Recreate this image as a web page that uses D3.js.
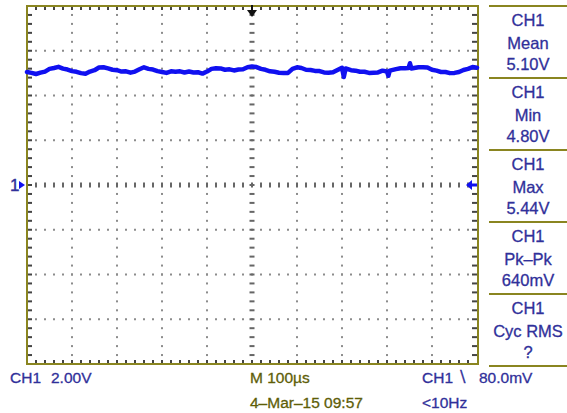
<!DOCTYPE html>
<html>
<head>
<meta charset="utf-8">
<script src="https://cdn.jsdelivr.net/npm/d3@7"></script>
<style>
  html, body { margin: 0; padding: 0; background: #fff; }
  svg { display: block; font-family: "Liberation Sans", Arial, sans-serif; }
</style>
</head>
<body>
<div id="scope"></div>
<script>
// trace samples: time in microseconds, CH1 in volts
var times = [0, 10, 20, 30, 40, 50, 60, 70, 80, 90, 100, 110, 120, 130, 140, 150, 160, 170, 180, 190,
             200, 210, 220, 230, 240, 250, 260, 270, 280, 290, 300, 310, 320, 330, 340, 350, 360, 370,
             380, 390, 400, 410, 420, 430, 440, 450, 460, 470, 480, 490, 500, 510, 520, 530, 540, 550,
             560, 570, 580, 590, 600, 610, 620, 630, 640, 650, 660, 670, 680, 690, 700, 704, 708, 720,
             730, 740, 750, 760, 770, 780, 790, 800, 803, 806, 820, 830, 840, 848, 851, 854, 870, 880,
             890, 900, 910, 920, 930, 940, 950, 960, 970, 980, 990, 1000];
var volts = [5.05, 5.01, 4.96, 5.02, 5.07, 5.19, 5.23, 5.28, 5.20, 5.16, 5.09, 5.06, 5.00, 4.97, 5.07,
             5.13, 5.25, 5.26, 5.21, 5.15, 5.13, 5.07, 5.08, 5.02, 5.07, 5.17, 5.26, 5.19, 5.16, 5.09,
             5.05, 5.01, 5.08, 5.06, 5.08, 5.03, 5.07, 5.03, 5.04, 4.98, 5.07, 5.19, 5.22, 5.21, 5.15,
             5.17, 5.12, 5.16, 5.17, 5.26, 5.30, 5.27, 5.19, 5.15, 5.08, 5.06, 5.02, 5.01, 5.01, 5.19,
             5.26, 5.23, 5.15, 5.14, 5.10, 5.09, 5.03, 5.02, 5.04, 5.14, 5.24, 4.83, 5.21, 5.13, 5.11,
             5.06, 5.06, 5.01, 5.02, 5.03, 5.11, 5.07, 4.88, 5.11, 5.18, 5.22, 5.22, 5.23, 5.44, 5.21,
             5.26, 5.26, 5.25, 5.15, 5.11, 5.05, 5.05, 5.00, 5.01, 5.05, 5.14, 5.19, 5.27, 5.24];

var measChannel = "CH1";
var measNames  = ["Mean", "Min", "Max", "Pk\u2013Pk", "Cyc RMS"];
var measValues = ["5.10V", "4.80V", "5.44V", "640mV", "?"];

var scaleText   = ["CH1", "2.00V"];
var timebase    = "M 100\u00b5s";
var dateText    = "4\u2013Mar\u201315 09:57";
var triggerText = ["CH1", "\u2216", "80.0mV"];
var freqText    = "<10Hz";

var W = 567, H = 413;
var blue = "#30309a", olive = "#5e5e08", border = "#8a8520", traceCol = "#1010f0";

var svg = d3.select("#scope").append("svg").attr("width", W).attr("height", H);

// 10 divisions of 100us, 8 divisions of 2V
var x = d3.scaleLinear().domain([0, 1000]).range([27, 477]);
var y = d3.scaleLinear().domain([-8, 8]).range([364, 6]);

var g = svg.append("g");

// minor steps
var tMinor = d3.range(0, 1000.01, 20);
var vMinor = d3.range(-8, 8.01, 0.4);

// dotted grid
[100, 200, 300, 400, 600, 700, 800, 900].forEach(function (t) {
    g.selectAll(null).data(vMinor.slice(1, -1)).enter().append("rect")
        .attr("x", x(t) - 1).attr("y", function (v) { return y(v) - 1; })
        .attr("width", 2).attr("height", 2).attr("fill", "#8c8c8c");
});
[-6, -4, -2, 2, 4, 6].forEach(function (v) {
    g.selectAll(null).data(tMinor.slice(1, -1)).enter().append("rect")
        .attr("x", function (t) { return x(t) - 1; }).attr("y", y(v) - 1)
        .attr("width", 2).attr("height", 2).attr("fill", "#8c8c8c");
});

// center cross
g.selectAll(null).data(vMinor.slice(1, -1)).enter().append("rect")
    .attr("x", x(500) - 2.5).attr("y", function (v) { return y(v) - 1; })
    .attr("width", 5).attr("height", 2).attr("fill", "#666");
g.selectAll(null).data(tMinor.slice(1, -1)).enter().append("rect")
    .attr("x", function (t) { return x(t) - 1; }).attr("y", y(0) - 2.5)
    .attr("width", 2).attr("height", 5).attr("fill", "#666");

// border ticks
g.selectAll(null).data(tMinor.slice(1, -1)).enter().append("rect")
    .attr("x", function (t) { return x(t) - 1; }).attr("y", 6)
    .attr("width", 2).attr("height", 4).attr("fill", "#444");
g.selectAll(null).data(tMinor.slice(1, -1)).enter().append("rect")
    .attr("x", function (t) { return x(t) - 1; }).attr("y", 360)
    .attr("width", 2).attr("height", 4).attr("fill", "#444");
g.selectAll(null).data(vMinor.slice(1, -1)).enter().append("rect")
    .attr("x", 27).attr("y", function (v) { return y(v) - 1; })
    .attr("width", 5).attr("height", 2).attr("fill", "#444");
g.selectAll(null).data(vMinor.slice(1, -1)).enter().append("rect")
    .attr("x", 472).attr("y", function (v) { return y(v) - 1; })
    .attr("width", 5).attr("height", 2).attr("fill", "#444");

// frame
g.append("rect").attr("x", 27).attr("y", 6).attr("width", 451).attr("height", 358)
    .attr("fill", "none").attr("stroke", border).attr("stroke-width", 2);

// trace
var pts = times.map(function (t, i) { return [t, volts[i]]; });
var line = d3.line().x(function (d) { return x(d[0]); }).y(function (d) { return y(d[1]); });
g.append("path").datum(pts).attr("d", line)
    .attr("fill", "none").attr("stroke", traceCol).attr("stroke-width", 4.5)
    .attr("stroke-linejoin", "round").attr("stroke-linecap", "round");

// trigger position marker (top)
g.append("rect").attr("x", x(500) - 1).attr("y", 5).attr("width", 2).attr("height", 6).attr("fill", "#111");
g.append("path").attr("d", "M" + (x(500) - 5) + ",10 L" + (x(500) + 5) + ",10 L" + x(500) + ",17 Z").attr("fill", "#111");

// ground marker (left) and trigger level marker (right)
svg.append("text").attr("x", 10).attr("y", y(0) + 6).attr("fill", blue)
    .attr("font-size", 17).attr("stroke", blue).attr("stroke-width", 0.4).text("1");
svg.append("path").attr("d", "M19," + (y(0) - 4) + " L25," + y(0) + " L19," + (y(0) + 4) + " Z").attr("fill", traceCol);
var lv = y(0);
svg.append("path").attr("d", "M466," + lv + " L472," + (lv - 5) + " L472," + (lv - 1.5) + " L477," + (lv - 1.5) +
    " L477," + (lv + 1.5) + " L472," + (lv + 1.5) + " L472," + (lv + 5) + " Z").attr("fill", traceCol);

// measurement panel
var panel = svg.append("g");
panel.selectAll("line.sep").data(d3.range(6)).enter().append("line")
    .attr("x1", 489).attr("x2", 567)
    .attr("y1", function (i) { return 6 + i * 72; }).attr("y2", function (i) { return 6 + i * 72; })
    .attr("stroke", border).attr("stroke-width", 2);
var boxes = panel.selectAll("g.box").data(measNames).enter().append("g")
    .attr("transform", function (d, i) { return "translate(528," + (6 + i * 72) + ")"; });
boxes.append("text").attr("y", 20).text(measChannel);
boxes.append("text").attr("y", 43).text(function (d) { return d; });
boxes.append("text").attr("y", 64).text(function (d, i) { return measValues[i]; });
boxes.selectAll("text").attr("text-anchor", "middle").attr("fill", blue).attr("font-size", 16.5)
    .attr("stroke", blue).attr("stroke-width", 0.3);

// status line
var st = svg.append("g").attr("font-size", 15.5).attr("stroke-width", 0.3);
st.append("text").attr("x", 10).attr("y", 383).attr("fill", blue).attr("stroke", blue).text(scaleText[0]);
st.append("text").attr("x", 51).attr("y", 383).attr("fill", blue).attr("stroke", blue).text(scaleText[1]);
st.append("text").attr("x", 250).attr("y", 383).attr("fill", olive).attr("stroke", olive).text(timebase);
st.append("text").attr("x", 250).attr("y", 408).attr("fill", olive).attr("stroke", olive).text(dateText);
st.append("text").attr("x", 422).attr("y", 383).attr("fill", blue).attr("stroke", blue).text(triggerText[0]);
st.append("text").attr("x", 457).attr("y", 383).attr("fill", blue).attr("stroke", blue).text(triggerText[1]);
st.append("text").attr("x", 479).attr("y", 383).attr("fill", blue).attr("stroke", blue).text(triggerText[2]);
st.append("text").attr("x", 422).attr("y", 408).attr("fill", blue).attr("stroke", blue).text(freqText);
</script>
</body>
</html>
